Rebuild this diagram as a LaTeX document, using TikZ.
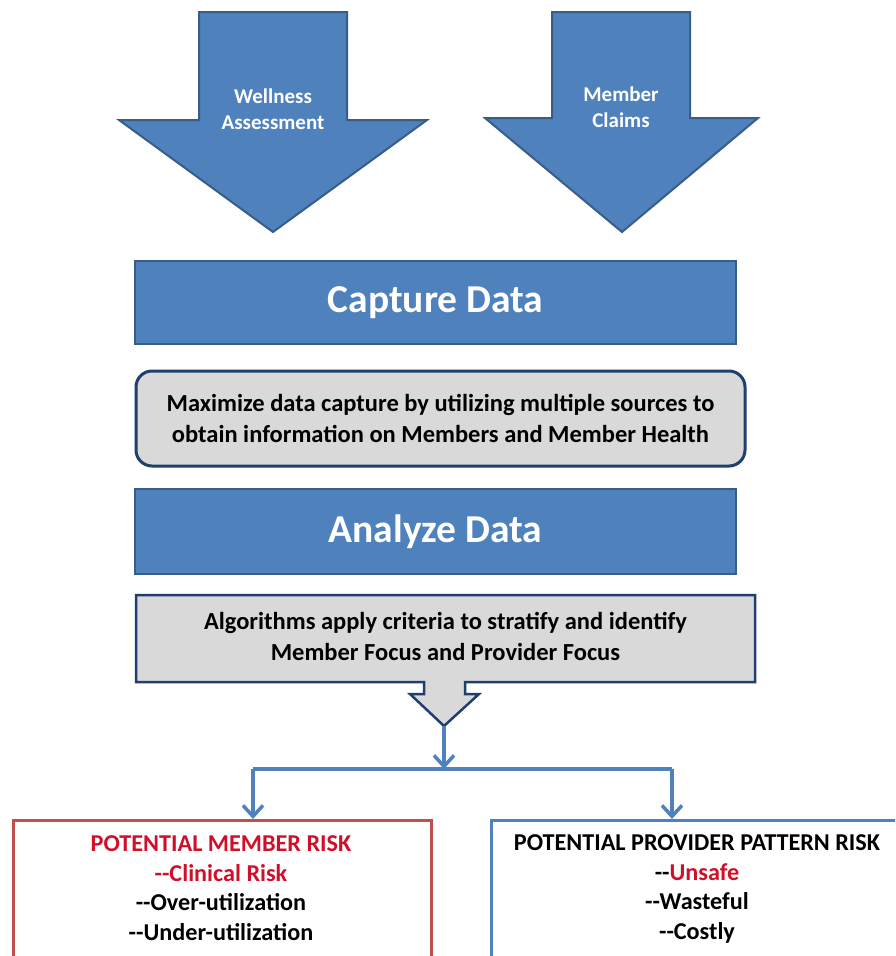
\documentclass[tikz,border=0pt]{standalone}
\usepackage{fontspec}
\setmainfont{Carlito}
\usetikzlibrary{arrows.meta}
\definecolor{blu}{HTML}{4F81BD}
\definecolor{bludark}{HTML}{385D8A}
\definecolor{navy}{HTML}{1F3F6E}
\definecolor{grayfill}{HTML}{D9D9D9}
\definecolor{redb}{HTML}{C0504D}
\definecolor{redt}{HTML}{D0102A}
\tikzset{
  bigarrow/.style={fill=blu, draw=bludark, line width=2pt, line join=miter},
  arrowtext/.style={text=white, align=center, font=\fontsize{21}{26}\selectfont\bfseries},
  bluebox/.style={draw=bludark, fill=blu, line width=2pt, inner sep=0pt, text=white,
    font=\fontsize{39.5}{44}\selectfont\bfseries},
  graybox/.style={draw=navy, fill=grayfill, line width=3pt},
  bodytext/.style={align=center, font=\fontsize{24.5}{31}\selectfont\bfseries, text=black},
  risktext/.style={align=center, font=\fontsize{24.2}{29.7}\selectfont\bfseries, text=black},
  riskbox/.style={line width=3pt, fill=white, inner sep=0pt},
  conn/.style={draw=blu, line width=3.5pt},
  tip/.style={-{Straight Barb[length=11pt,width=20pt,line width=3.5pt]}}
}
\begin{document}
\begin{tikzpicture}[x=1pt,y=-1pt]
\useasboundingbox (0,0) rectangle (895,956);
\clip (0,0) rectangle (895,956);
\fill[white] (0,0) rectangle (895,956);

% big input arrows
\draw[bigarrow] (199,12) -- (347,12) -- (347,120) -- (427,120) -- (273,232)
  -- (119,120) -- (199,120) -- cycle;
\node[arrowtext] (wa) at (273,109) {Wellness\\Assessment};
\draw[bigarrow] (552,12) -- (690,12) -- (690,118) -- (758,118) -- (622,232)
  -- (485,118) -- (552,118) -- cycle;
\node[arrowtext] (mc) at (621,107) {Member\\Claims};

% capture
\node[bluebox, minimum width=601pt, minimum height=83pt] (cap) at (435.5,302.5) {Capture Data};
\node[graybox, rounded corners=16pt, minimum width=609pt, minimum height=95pt] (capt) at (440.5,418.5) {};
\node[bodytext] (captx) at (440.5,418.5) {Maximize data capture by utilizing multiple sources to\\obtain information on Members and Member Health};

% analyze
\node[bluebox, minimum width=601pt, minimum height=85pt] (ana) at (435.5,531.5) {Analyze Data};
\draw[graybox, line width=2.5pt] (136,595) -- (755,595) -- (755,682) -- (465,682) -- (465,694) -- (479,694)
  -- (444,726) -- (410,694) -- (424,694) -- (424,682) -- (136,682) -- cycle;
\coordinate (calltip) at (444,726);
\node[bodytext] (anatx) at (445.5,636) {Algorithms apply criteria to stratify and identify\\Member Focus and Provider Focus};

% risk boxes
\node[riskbox, draw=redb, minimum width=418pt, minimum height=200pt, anchor=north west] (mr) at (12,819) {};
\node[risktext] (mrt) at (221,888)
  {\textcolor{redt}{POTENTIAL MEMBER RISK}\\\textcolor{redt}{-{}-Clinical Risk}\\-{}-Over-utilization\\-{}-Under-utilization};
\node[riskbox, draw=blu, minimum width=440pt, minimum height=200pt, anchor=north west] (pr) at (490,819) {};
\node[risktext] (prt) at (697,889)
  {POTENTIAL PROVIDER PATTERN RISK\\-{}-\textcolor{redt}{Unsafe}\\-{}-Wasteful\\-{}-Costly};

% connectors
\coordinate (bar) at (444,769);
\coordinate (barl) at (253,769);
\coordinate (barr) at (672,769);
\draw[conn, tip] (calltip) -- (bar);
\draw[conn, line join=round] (barl) -- (barr);
\draw[conn, tip] (barl) -- (barl |- mr.north);
\draw[conn, tip] (barr) -- (barr |- pr.north);
\end{tikzpicture}
\end{document}
